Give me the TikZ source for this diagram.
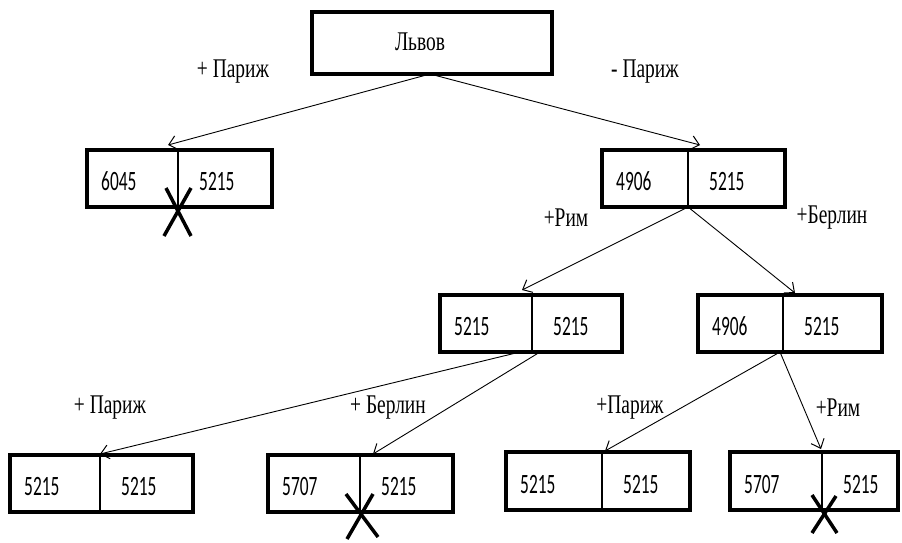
\documentclass[tikz,border=0pt]{standalone}
\usepackage{fontspec}
\usetikzlibrary{arrows.meta}
\newfontfamily\numfont[FakeStretch=0.62]{Carlito}
\newfontfamily\lblfont[FakeStretch=0.72]{Liberation Serif}
\tikzset{
  cellbox/.style={draw, line width=4pt, rectangle, inner sep=0pt},
  num/.style={font=\numfont\fontsize{28}{28}\selectfont, anchor=west, inner sep=0pt},
  lbl/.style={font=\lblfont\fontsize{27}{27}\selectfont, inner sep=0pt},
  arr/.style={-{Straight Barb[length=8pt,width=14pt,line width=1pt]}, line width=0.9pt},
  xmark/.style={line width=3.5pt},
  divider/.style={line width=2.4pt}
}
% \cellpair{name}{x1}{x2}{xd}{y1}{y2}{t1}{t2}
\newcommand{\cellpair}[8]{%
  \node[cellbox, minimum width={(#3-#2)*1pt}, minimum height={(#6-#5)*1pt}] (#1) at ({(#2+#3)/2},{(#5+#6)/2}) {};
  \coordinate (#1-dt) at (#4,#5);
  \coordinate (#1-db) at (#4,#6);
  \draw[divider] (#1-dt) -- (#1-db);
  \node[num] (#1-l) at ({#2+14},{(#5+#6)/2+3}) {#7};
  \node[num] (#1-r) at ({#4+21},{(#5+#6)/2+3}) {#8};
}
\begin{document}
\begin{tikzpicture}[x=1pt,y=-1pt]
\useasboundingbox (0,0) rectangle (902,542);
% root
\node[cellbox, minimum width=240pt, minimum height=62pt] (root) at (432,43) {};
\node[lbl] (rootT) at (420,42) {Львов};
\coordinate (root-db) at (430,74);

\cellpair{a}{87}{272}{178}{150}{207}{6045}{5215}
\cellpair{b}{602}{785}{688}{150}{207}{4906}{5215}
\cellpair{c}{440}{622}{532}{295}{352}{5215}{5215}
\cellpair{d}{698}{882}{783}{295}{352}{4906}{5215}
\cellpair{e}{10}{193}{100}{455}{512}{5215}{5215}
\cellpair{f}{268}{453}{360}{455}{512}{5707}{5215}
\cellpair{g}{506}{690}{602}{452}{510}{5215}{5215}
\cellpair{h}{730}{898}{822}{452}{510}{5707}{5215}

% arrow targets
\coordinate (ta) at (168,145);
\coordinate (tb) at (700,145);
\coordinate (tc) at (522,290);
\coordinate (td) at (795,293);
\coordinate (te) at (100,454);
\coordinate (tf) at (373,454);
\coordinate (tg) at (605,451);
\coordinate (th) at (821,449);
\coordinate (c-s1) at (520,352);
\coordinate (c-s2) at (540,352);
\coordinate (d-s) at (780,352);

\draw[arr] (root-db) -- (ta);
\draw[arr] (root-db) -- (tb);
\draw[arr] (b-db) -- (tc);
\draw[arr] (b-db) -- (td);
\draw[arr] (c-s1) -- (te);
\draw[arr] (c-s2) -- (tf);
\draw[arr] (d-s) -- (tg);
\draw[arr] (d-s) -- (th);

% labels
\node[lbl] (l1) at (233,72) {+ Париж};
\node[lbl] (l2) at (645,72) {- Париж};
\node[lbl] (l3) at (566,218) {+Рим};
\node[lbl] (l4) at (832,218) {+Берлин};
\node[lbl] (l5) at (110,408) {+ Париж};
\node[lbl] (l6) at (388,408) {+ Берлин};
\node[lbl] (l7) at (630,408) {+Париж};
\node[lbl] (l8) at (838,408) {+Рим};

% crosses
\draw[xmark] (166,188) -- (191,236);
\draw[xmark] (191,188) -- (164,236);
\draw[xmark] (346,494) -- (378,537);
\draw[xmark] (373,494) -- (347,539);
\draw[xmark] (812,495) -- (837,533);
\draw[xmark] (836,496) -- (812,533);
\end{tikzpicture}
\end{document}
